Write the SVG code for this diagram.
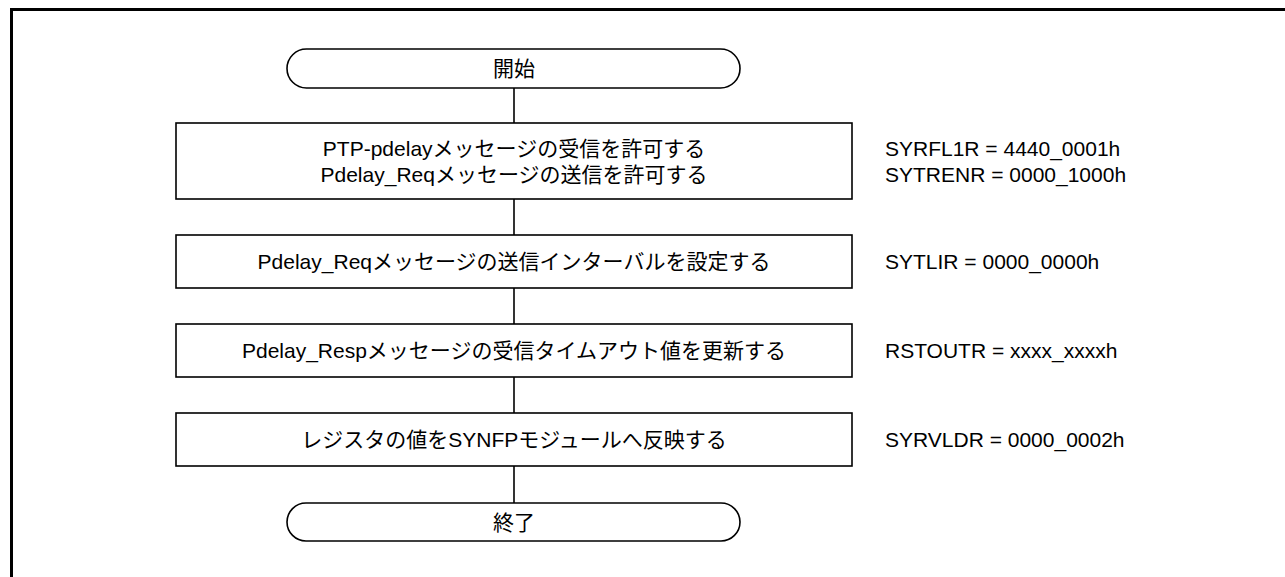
<svg xmlns="http://www.w3.org/2000/svg" width="1285" height="577" viewBox="0 0 1285 577">
<style>
.frame{fill:none;stroke:#000;stroke-width:3}
.box{fill:#fff;stroke:#000;stroke-width:1.6}
.conn{fill:none;stroke:#000;stroke-width:1.6}
.t{font-family:"Liberation Sans","Noto Sans CJK JP",sans-serif;font-size:21px;fill:#000}
.c{text-anchor:middle}
</style>
<rect width="1285" height="577" fill="#fff"/>
<path class="frame" d="M11.5 577 V9.5 H1285"/>
<g id="connectors">
<line class="conn" x1="514" y1="88" x2="514" y2="123"/>
<line class="conn" x1="514" y1="199" x2="514" y2="235"/>
<line class="conn" x1="514" y1="288" x2="514" y2="324"/>
<line class="conn" x1="514" y1="377" x2="514" y2="413"/>
<line class="conn" x1="514" y1="466" x2="514" y2="503"/>
</g>
<g id="start">
<rect class="box" x="287" y="49" width="453" height="39" rx="19.5" ry="19.5"/>
<text class="t c" x="514" y="76">開始</text>
</g>
<g id="step1">
<rect class="box" x="176" y="123" width="676" height="76"/>
<text class="t c" x="514" y="155.5">PTP-pdelayメッセージの受信を許可する</text>
<text class="t c" x="514" y="181.5">Pdelay_Reqメッセージの送信を許可する</text>
</g>
<g id="note1">
<text class="t" x="885" y="155.5">SYRFL1R = 4440_0001h</text>
<text class="t" x="885" y="181.5">SYTRENR = 0000_1000h</text>
</g>
<g id="step2">
<rect class="box" x="176" y="235" width="676" height="53"/>
<text class="t c" x="514" y="269">Pdelay_Reqメッセージの送信インターバルを設定する</text>
</g>
<g id="note2">
<text class="t" x="885" y="269">SYTLIR = 0000_0000h</text>
</g>
<g id="step3">
<rect class="box" x="176" y="324" width="676" height="53"/>
<text class="t c" x="514" y="358">Pdelay_Respメッセージの受信タイムアウト値を更新する</text>
</g>
<g id="note3">
<text class="t" x="885" y="358">RSTOUTR = xxxx_xxxxh</text>
</g>
<g id="step4">
<rect class="box" x="176" y="413" width="676" height="53"/>
<text class="t c" x="514" y="447">レジスタの値をSYNFPモジュールへ反映する</text>
</g>
<g id="note4">
<text class="t" x="885" y="447">SYRVLDR = 0000_0002h</text>
</g>
<g id="end">
<rect class="box" x="287" y="503" width="453" height="38" rx="19" ry="19"/>
<text class="t c" x="514" y="529.5">終了</text>
</g>
</svg>
